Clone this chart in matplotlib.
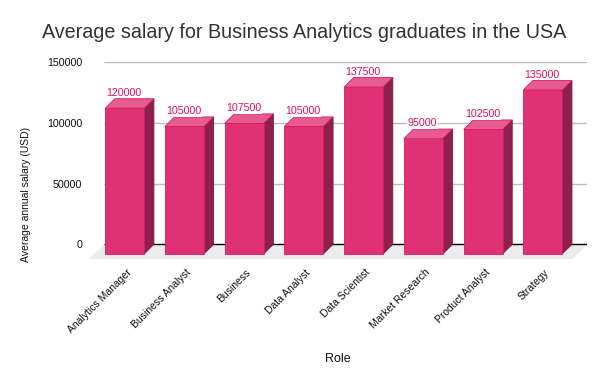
"""Average salary by role, drawn as a fake-3D column chart."""

import matplotlib
matplotlib.use("Agg")
import matplotlib.pyplot as plt
from matplotlib.patches import Polygon
from matplotlib.transforms import ScaledTranslation

roles = ["Analytics Manager", "Business Analyst", "Business", "Data Analyst",
         "Data Scientist", "Market Research", "Product Analyst", "Strategy"]
salaries = [120000, 105000, 107500, 105000, 137500, 95000, 102500, 135000]
y_ticks = [0, 50000, 100000, 150000]

W, H = 607, 385
# pixel layout of the plot
PX_LEFT, PX_RIGHT = 89, 587
PX_TOP, PX_BOTTOM = 62.3, 259
PX_ZERO = 244.3
PX_PER_VAL = 182 / 150000
PX_STEP = 59.72
PX_FIRST = 124.8

DEPTH_X = 9.6 / PX_STEP
DEPTH_Y = 9.5 / PX_PER_VAL
BAR_W = 39 / PX_STEP

FRONT = "#e03174"
TOP = "#e65c91"
SIDE = "#8f1f4d"
EDGE = "#d81b66"
LABEL = "#e0105f"

plt.rcParams["font.family"] = ["Liberation Sans", "DejaVu Sans"]

fig = plt.figure(figsize=(W / 100, H / 100), dpi=100)
ax = fig.add_axes([PX_LEFT / W, 1 - PX_BOTTOM / H,
                   (PX_RIGHT - PX_LEFT) / W, (PX_BOTTOM - PX_TOP) / H])
ax.set_xlim((PX_LEFT - PX_FIRST) / PX_STEP, (PX_RIGHT - PX_FIRST) / PX_STEP)
ax.set_ylim((PX_ZERO - PX_BOTTOM) / PX_PER_VAL, (PX_ZERO - PX_TOP) / PX_PER_VAL)
for s in ax.spines.values():
    s.set_visible(False)

x_lo, x_hi = ax.get_xlim()
y_lo = ax.get_ylim()[0]
back_left = x_lo + (104 - PX_LEFT) / PX_STEP
front_right = x_hi - (PX_RIGHT - 572.7) / PX_STEP

# floor
ax.add_patch(Polygon([(x_lo, y_lo), (back_left, 0), (x_hi, 0), (front_right, y_lo)],
                     closed=True, fc="#ececec", ec="none", zorder=1))

# wall gridlines
for v in y_ticks:
    ax.plot([back_left, x_hi], [v, v], color="black" if v == 0 else "#bdbdbd",
            lw=1.0, zorder=2, solid_capstyle="butt")

for i, v in enumerate(salaries):
    l, r = i - BAR_W / 2, i + BAR_W / 2
    low, high = -DEPTH_Y, v - DEPTH_Y
    ax.add_patch(Polygon([(r, low), (r + DEPTH_X, 0), (r + DEPTH_X, v), (r, high)],
                         closed=True, fc=SIDE, ec="#7d1342", lw=0.6, zorder=3))
    ax.add_patch(Polygon([(l, high), (l + DEPTH_X, v), (r + DEPTH_X, v), (r, high)],
                         closed=True, fc=TOP, ec=EDGE, lw=0.6, zorder=3))
    ax.add_patch(Polygon([(l, low), (r, low), (r, high), (l, high)],
                         closed=True, fc=FRONT, ec=EDGE, lw=0.6, zorder=4))
    ax.annotate(str(v), (i, v), xytext=(-0.5, 0.6), textcoords="offset points",
                ha="center", va="bottom", fontsize=7.7, color=LABEL, zorder=5,
                bbox=dict(fc="white", ec="none", pad=0.4))

ax.set_yticks(y_ticks)
ax.set_yticklabels([str(v) for v in y_ticks], fontsize=7.7, color="#111111")
ax.tick_params(axis="y", length=0, pad=5)

ax.set_xticks(range(len(roles)))
ax.set_xticklabels(roles, rotation=45, ha="right", rotation_mode="anchor",
                   fontsize=7.5, color="#111111")
ax.tick_params(axis="x", length=0, pad=6)
shift = ScaledTranslation(1.5 / 100, 0, fig.dpi_scale_trans)
for lab in ax.get_xticklabels():
    lab.set_transform(lab.get_transform() + shift)

fig.text(26 / W, 1 - 194 / H, "Average annual salary (USD)", rotation=90,
         ha="center", va="center", fontsize=7.5, color="#111111")
fig.text(338 / W, 1 - 358.5 / H, "Role", ha="center", va="center",
         fontsize=9, color="#111111")
fig.text(304 / W, 1 - 32 / H, "Average salary for Business Analytics graduates in the USA",
         ha="center", va="center", fontsize=14.2, color="#333333")

fig.savefig("out.png", dpi=100)
